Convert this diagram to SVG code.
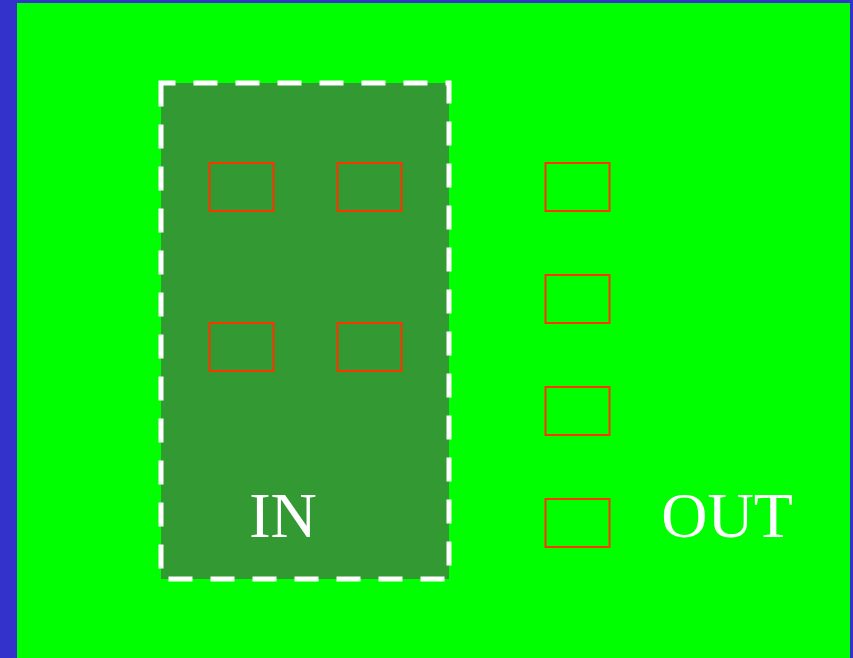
<svg xmlns="http://www.w3.org/2000/svg" width="853" height="658" viewBox="0 0 853 658">
  <style>
    .port { fill: none; stroke: #ff3300; stroke-width: 2; }
    .label { font-family: "Liberation Serif", "Times New Roman", serif; font-size: 64px; fill: #ffffff; text-anchor: middle; }
  </style>
  <rect x="0" y="0" width="853" height="658" fill="#3333cc"/>
  <rect x="17" y="3" width="833" height="660" fill="#00ff00"/>
  <g id="in-group">
    <rect x="161" y="83" width="288" height="496" fill="#339933" stroke="#ffffff" stroke-width="5" stroke-dasharray="24 18" stroke-dashoffset="9.5"/>
    <text class="label" x="283" y="537">IN</text>
  </g>
  <g id="in-port-1"><rect class="port" x="209.5" y="163" width="64" height="48"/></g>
  <g id="in-port-2"><rect class="port" x="337.5" y="163" width="64" height="48"/></g>
  <g id="in-port-3"><rect class="port" x="209.5" y="323" width="64" height="48"/></g>
  <g id="in-port-4"><rect class="port" x="337.5" y="323" width="64" height="48"/></g>
  <g id="out-port-1"><rect class="port" x="545.5" y="163" width="64" height="48"/></g>
  <g id="out-port-2"><rect class="port" x="545.5" y="275" width="64" height="48"/></g>
  <g id="out-port-3"><rect class="port" x="545.5" y="387" width="64" height="48"/></g>
  <g id="out-port-4"><rect class="port" x="545.5" y="499" width="64" height="48"/></g>
  <g id="out-label"><text class="label" x="727" y="537">OUT</text></g>
  <g id="connectors"></g>
</svg>
